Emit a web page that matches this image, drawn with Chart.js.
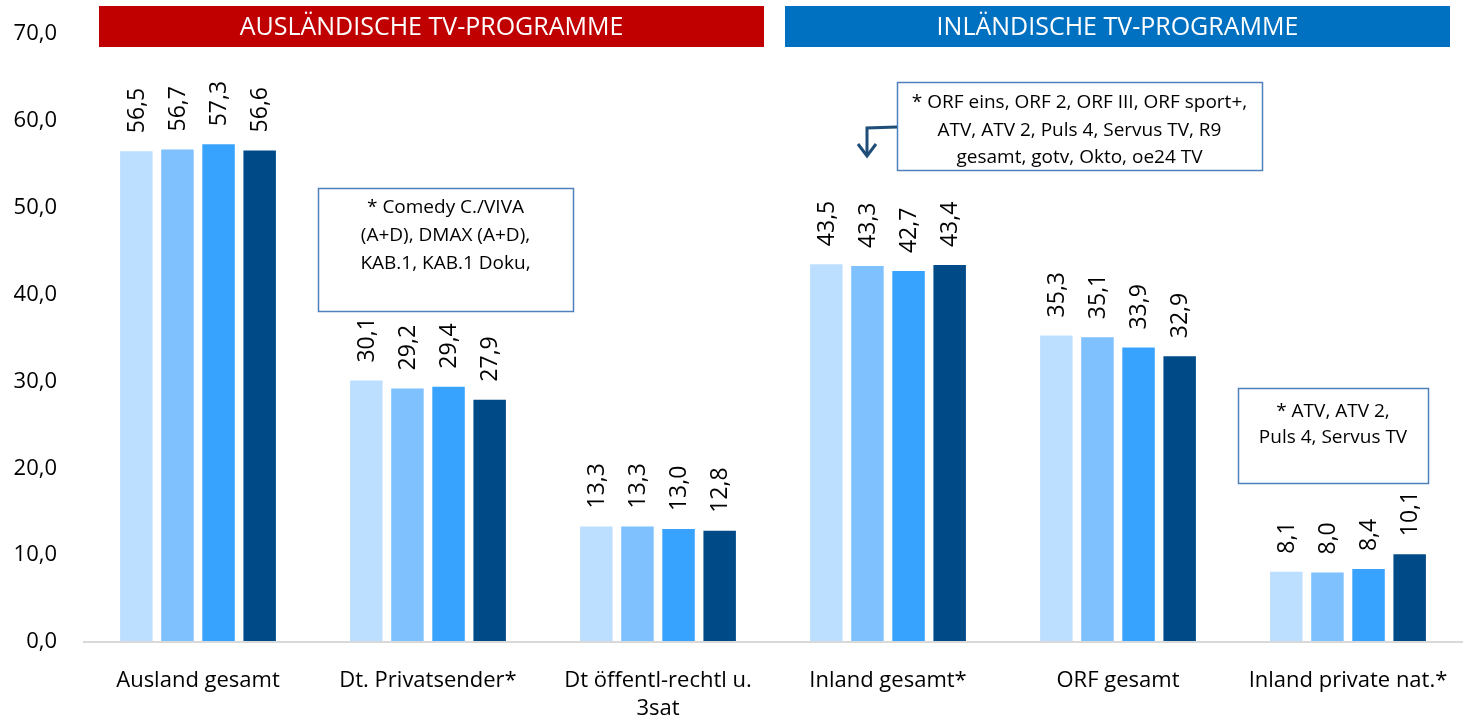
<!DOCTYPE html>
<html><head><meta charset="utf-8">
<script src="https://cdn.jsdelivr.net/npm/chart.js@4/dist/chart.umd.min.js"></script>
<style>html,body{margin:0;padding:0;background:#fff}#wrap{width:1464px;height:721px}</style>
</head><body><div id="wrap"><canvas id="c" width="1464" height="721"></canvas></div>
<script>
const categories = ["Ausland gesamt","Dt. Privatsender*",["Dt öffentl-rechtl u.","3sat"],"Inland gesamt*","ORF gesamt","Inland private nat.*"];
const series1 = [56.5,30.1,13.3,43.5,35.3,8.1];
const series2 = [56.7,29.2,13.3,43.3,35.1,8.0];
const series3 = [57.3,29.4,13.0,42.7,33.9,8.4];
const series4 = [56.6,27.9,12.8,43.4,32.9,10.1];
const seriesColors = ["#BDDFFF","#7FC1FF","#38A3FF","#004A87"];
const yTicks = [0,10,20,30,40,50,60,70];
const headers = [["AUSLÄNDISCHE TV-PROGRAMME","#C00000"],["INLÄNDISCHE TV-PROGRAMME","#0070C0"]];
const notes = [
  ["* Comedy C./VIVA","(A+D), DMAX (A+D),","KAB.1, KAB.1 Doku,"],
  ["* ORF eins, ORF 2, ORF III, ORF sport+,","ATV, ATV 2, Puls 4, Servus TV, R9","gesamt, gotv, Okto, oe24 TV"],
  ["* ATV, ATV 2,","Puls 4, Servus TV"]
];
const FONT = "'Open Sans', 'Liberation Sans', sans-serif";
const fmt = v => v.toFixed(1).replace('.',',');

const labelPlugin = {
  id:'labels',
  afterDatasetsDraw(chart){
    const ctx = chart.ctx;
    ctx.save();
    ctx.fillStyle = '#000';
    ctx.font = "23px " + FONT;
    chart.data.datasets.forEach((ds,di)=>{
      const meta = chart.getDatasetMeta(di);
      meta.data.forEach((bar,i)=>{
        ctx.save();
        ctx.translate(bar.x+1, bar.y-18);
        ctx.rotate(-Math.PI/2);
        ctx.textAlign='left'; ctx.textBaseline='middle';
        ctx.fillText(fmt(ds.data[i]),0,0);
        ctx.restore();
      });
    });
    ctx.restore();
  },
  afterDraw(chart){
    const ctx = chart.ctx;
    const y = chart.scales.y;
    const ca = chart.chartArea;
    ctx.save();
    const hy = 6, hh = 41;
    const hx = [[99,764],[785,1450]];
    headers.forEach((h,i)=>{
      ctx.fillStyle = h[1];
      ctx.fillRect(hx[i][0],hy,hx[i][1]-hx[i][0],hh);
      ctx.fillStyle = '#fff';
      ctx.font = "25px " + FONT;
      ctx.textAlign='center'; ctx.textBaseline='middle';
      ctx.fillText(h[0],(hx[i][0]+hx[i][1])/2,hy+hh/2+1);
    });
    const boxes = [[318,188,573,311,20,28],[897,82,1262,170,21,27.5],[1238,388,1428,483,24,26]];
    ctx.font = "19px " + FONT;
    boxes.forEach((b,i)=>{
      ctx.fillStyle='#fff';
      ctx.fillRect(b[0],b[1],b[2]-b[0],b[3]-b[1]);
      ctx.strokeStyle='#4F81BD'; ctx.lineWidth=1.5;
      ctx.strokeRect(b[0]+0.5,b[1]+0.5,b[2]-b[0],b[3]-b[1]);
      ctx.fillStyle='#000'; ctx.textAlign='center'; ctx.textBaseline='middle';
      const cx=(b[0]+b[2])/2;
      notes[i].forEach((t,k)=>ctx.fillText(t,cx,b[1]+b[4]+k*b[5]));
    });
    ctx.strokeStyle='#1F4E79'; ctx.lineWidth=3;
    ctx.beginPath(); ctx.moveTo(897,127); ctx.lineTo(867,128); ctx.lineTo(867,155); ctx.stroke();
    ctx.beginPath(); ctx.moveTo(858,144); ctx.lineTo(867,156); ctx.lineTo(876,144); ctx.stroke();
    ctx.strokeStyle='#D9D9D9'; ctx.lineWidth=2;
    ctx.beginPath(); ctx.moveTo(ca.left,y.getPixelForValue(0)); ctx.lineTo(ca.right,y.getPixelForValue(0)); ctx.stroke();
    ctx.restore();
  }
};

new Chart(document.getElementById('c'),{
  type:'bar',
  data:{labels:categories,datasets:[series1,series2,series3,series4].map((d,i)=>({
    label:'S'+(i+1),data:d,backgroundColor:seriesColors[i],borderWidth:0,
    categoryPercentage:0.715,barPercentage:0.79}))},
  options:{
    responsive:false,animation:false,
    layout:{padding:{top:34,right:1,left:0,bottom:0}},
    plugins:{legend:{display:false},tooltip:{enabled:false}},
    scales:{
      x:{grid:{display:false},border:{display:false},
         afterFit(s){s.height=79;},
         ticks:{color:'#000',font:{size:22,family:FONT,lineHeight:1.3},padding:16,maxRotation:0,autoSkip:false}},
      y:{min:0,max:70,grid:{display:false},border:{display:false},
         afterFit(s){s.width=83;},
         afterBuildTicks(s){s.ticks=yTicks.map(v=>({value:v}));},
         ticks:{color:'#000',font:{size:22,family:FONT},padding:18,callback:v=>fmt(v)}}
    }
  },
  plugins:[labelPlugin]
});
</script></body></html>
